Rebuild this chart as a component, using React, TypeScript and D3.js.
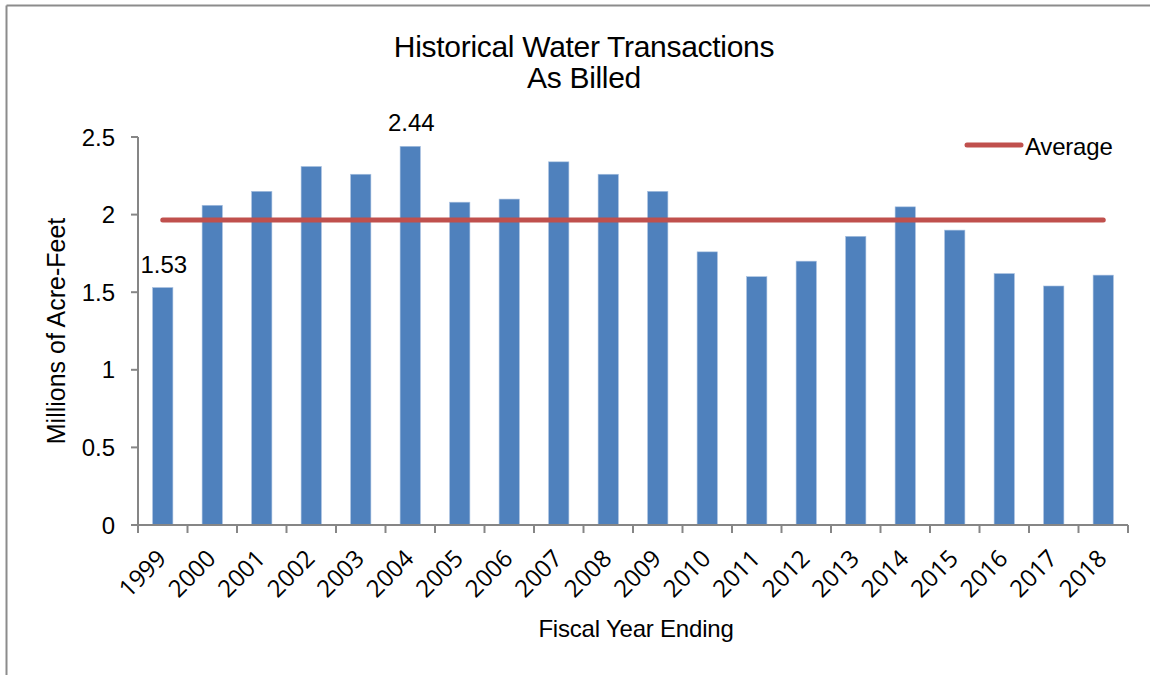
import React from "react";
import * as d3 from "d3";

const years = ["1999","2000","2001","2002","2003","2004","2005","2006","2007","2008","2009","2010","2011","2012","2013","2014","2015","2016","2017","2018"];
const values = [1.53,2.06,2.15,2.31,2.26,2.44,2.08,2.10,2.34,2.26,2.15,1.76,1.60,1.70,1.86,2.05,1.90,1.62,1.54,1.61];
const yTicks = [0, 0.5, 1, 1.5, 2, 2.5];
const labeledYears = ["1999", "2004"];
const titleLines = ["Historical Water Transactions", "As Billed"];

const W = 1150, H = 675;
const M = { left: 138, right: 1128, top: 137, bottom: 525 };
const FONT = "'Liberation Sans', Arial, sans-serif";
const TICKFONT = "'Open Sans', 'Noto Sans', sans-serif";
const BAR = "#4F81BD";
const AVG = "#C0504D";
const AXIS = "#868686";

export default function App() {
  const x = d3.scaleBand<string>().domain(years).range([M.left, M.right]).padding(0);
  const y = d3.scaleLinear().domain([0, 2.5]).range([M.bottom, M.top]);
  const bw = x.bandwidth() * 0.41;
  const avg = d3.mean(values) as number;
  const cx = (yr: string) => (x(yr) as number) + x.bandwidth() / 2;
  const boundaries = years.map((yr) => x(yr) as number).concat([M.right]);

  return (
    <svg width={W} height={H} style={{ position: "fixed", left: 0, top: 0, background: "#fff" }}>
      <rect x={0} y={0} width={W} height={H} fill="#fff" />
      {/* frame */}
      <line x1={6.5} y1={5.5} x2={W} y2={5.5} stroke="#8c8c8c" strokeWidth={2} />
      <line x1={6.5} y1={5.5} x2={6.5} y2={H} stroke="#8c8c8c" strokeWidth={2} />

      {/* title */}
      {titleLines.map((t, i) => (
        <text key={t} x={584} y={57 + i * 31} textAnchor="middle" fontFamily={FONT} fontSize={30} fill="#000" letterSpacing={-0.3}>
          {t}
        </text>
      ))}

      {/* bars */}
      {years.map((yr, i) => (
        <rect key={yr} x={cx(yr) - bw / 2} y={y(values[i])} width={bw} height={M.bottom - y(values[i])} fill={BAR} stroke="#a9c1e0" strokeWidth={0.6} />
      ))}

      {/* average line */}
      <line x1={cx(years[0])} x2={cx(years[years.length - 1])} y1={y(avg)} y2={y(avg)} stroke={AVG} strokeWidth={5} strokeLinecap="round" />

      {/* y axis */}
      <line x1={M.left} x2={M.left} y1={M.top} y2={M.bottom} stroke={AXIS} strokeWidth={2} />
      {yTicks.map((t) => (
        <g key={t}>
          <line x1={M.left - 7} x2={M.left} y1={y(t)} y2={y(t)} stroke={AXIS} strokeWidth={2} />
          <text x={M.left - 23} y={y(t)} dy="0.36em" textAnchor="end" fontFamily={FONT} fontSize={24} fill="#000">
            {d3.format("")(t)}
          </text>
        </g>
      ))}

      {/* x axis */}
      <line x1={M.left} x2={M.right} y1={M.bottom} y2={M.bottom} stroke={AXIS} strokeWidth={2} />
      {boundaries.map((b, i) => (
        <line key={i} x1={b} x2={b} y1={M.bottom} y2={M.bottom + 8} stroke={AXIS} strokeWidth={2} />
      ))}
      {years.map((yr) => (
        <text key={yr} transform={`translate(${cx(yr) + 5},${M.bottom + 35}) rotate(-45)`} textAnchor="end" fontFamily={TICKFONT} fontSize={24} fill="#000">
          {yr}
        </text>
      ))}

      {/* data labels */}
      {years.map((yr, i) =>
        labeledYears.includes(yr) ? (
          <text key={"l" + yr} x={cx(yr) + 1} y={y(values[i]) - 15} textAnchor="middle" fontFamily={FONT} fontSize={24} fill="#000">
            {values[i].toFixed(2)}
          </text>
        ) : null
      )}

      {/* axis titles */}
      <text transform={`translate(65,331) rotate(-90)`} textAnchor="middle" fontFamily={FONT} fontSize={25} fill="#000">
        Millions of Acre-Feet
      </text>
      <text x={636} y={637} textAnchor="middle" fontFamily={FONT} fontSize={24} fill="#000" letterSpacing={-0.2}>
        Fiscal Year Ending
      </text>

      {/* legend */}
      <line x1={967} x2={1021} y1={145} y2={145} stroke={AVG} strokeWidth={5} strokeLinecap="round" />
      <text x={1025} y={155} fontFamily={FONT} fontSize={24} fill="#000" letterSpacing={-0.2}>
        Average
      </text>
    </svg>
  );
}
